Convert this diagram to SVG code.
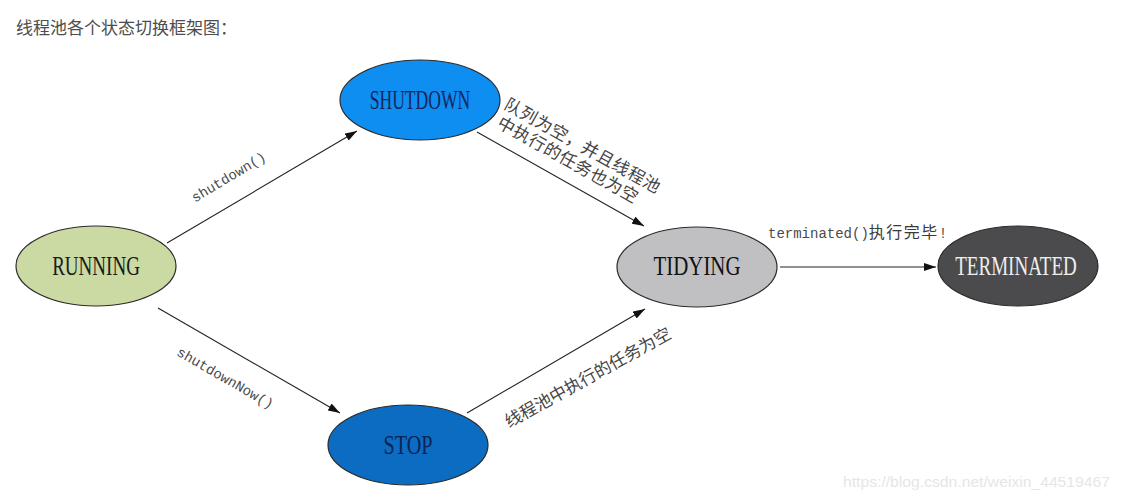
<svg xmlns="http://www.w3.org/2000/svg" width="1123" height="502" viewBox="0 0 1123 502">
<defs>
<marker id="arr" viewBox="0 0 12 8" refX="12" refY="4" markerWidth="12" markerHeight="8" markerUnits="userSpaceOnUse" orient="auto">
<path d="M0,0 L12,4 L0,8 z" fill="#111"/>
</marker>
<style>
.node ellipse{stroke:#2a2a2a;stroke-width:1.2}
.nl{font-family:"Liberation Serif","Times New Roman",serif;font-size:28px;text-anchor:middle}
.edge{stroke:#222;stroke-width:1.1;fill:none;marker-end:url(#arr)}
.mono{font-family:"Liberation Mono","DejaVu Sans Mono",monospace;font-size:14px;fill:#4a4a4a}
.cjk{font-family:"Noto Sans CJK SC",sans-serif;font-size:17px;fill:#444}
</style>
</defs>
<rect width="1123" height="502" fill="#fff"/>
<text x="16" y="34" font-family="Noto Sans CJK SC, sans-serif" font-size="17" fill="#4d4d4d">线程池各个状态切换框架图：</text>

<g id="connectors">
<line class="edge" x1="167" y1="243" x2="357" y2="131"/>
<line class="edge" x1="477" y1="132" x2="644" y2="226"/>
<line class="edge" x1="158" y1="308" x2="340" y2="413"/>
<line class="edge" x1="467" y1="413" x2="645" y2="309"/>
<line class="edge" x1="780" y1="267" x2="936" y2="267"/>
<text class="mono" transform="translate(231,181) rotate(-31)" text-anchor="middle">shutdown()</text>
<text class="mono" transform="translate(223,382) rotate(30)" text-anchor="middle">shutdownNow()</text>
<g transform="translate(503,108) rotate(29.2)">
<text class="cjk" x="0" y="0" letter-spacing="0.6">队列为空，并且线程池</text>
<text class="cjk" x="3" y="19.5" letter-spacing="0.6">中执行的任务也为空</text>
</g>
<text class="cjk" transform="translate(509,428) rotate(-29)" letter-spacing="0">线程池中执行的任务为空</text>
<text class="mono" x="768" y="238" font-size="13.2">terminated()<tspan font-family="Noto Sans CJK SC, sans-serif" font-size="16" letter-spacing="1.5" fill="#3a3a3a">执行完毕</tspan>!</text>
</g>

<g id="running" class="node">
<ellipse cx="96" cy="266" rx="80" ry="40" fill="#cbd9a2"/>
<text class="nl" transform="translate(96,275) scale(0.68,1)" textLength="129" lengthAdjust="spacingAndGlyphs" fill="#1a1a1a">RUNNING</text>
</g>
<g id="shutdown" class="node">
<ellipse cx="420" cy="100" rx="80" ry="40" fill="#0e8ef0"/>
<text class="nl" transform="translate(420,109) scale(0.68,1)" textLength="148" lengthAdjust="spacingAndGlyphs" fill="#14275e">SHUTDOWN</text>
</g>
<g id="stop" class="node">
<ellipse cx="408" cy="445" rx="80" ry="40" fill="#0b6cc2"/>
<text class="nl" transform="translate(408,454) scale(0.68,1)" textLength="72" lengthAdjust="spacingAndGlyphs" fill="#0c2355">STOP</text>
</g>
<g id="tidying" class="node">
<ellipse cx="697" cy="267" rx="80" ry="40" fill="#c0c0c3"/>
<text class="nl" transform="translate(697,275) scale(0.68,1)" textLength="128" lengthAdjust="spacingAndGlyphs" fill="#111">TIDYING</text>
</g>
<g id="terminated" class="node">
<ellipse cx="1018" cy="266" rx="80" ry="40" fill="#4b4b4d"/>
<text class="nl" transform="translate(1016,275) scale(0.68,1)" textLength="179" lengthAdjust="spacingAndGlyphs" fill="#eeeeee">TERMINATED</text>
</g>

<text x="843" y="487" font-family="Liberation Sans, Arial, sans-serif" font-size="15" fill="#e6e6e6" textLength="267" lengthAdjust="spacingAndGlyphs">https://blog.csdn.net/weixin_44519467</text>
</svg>
